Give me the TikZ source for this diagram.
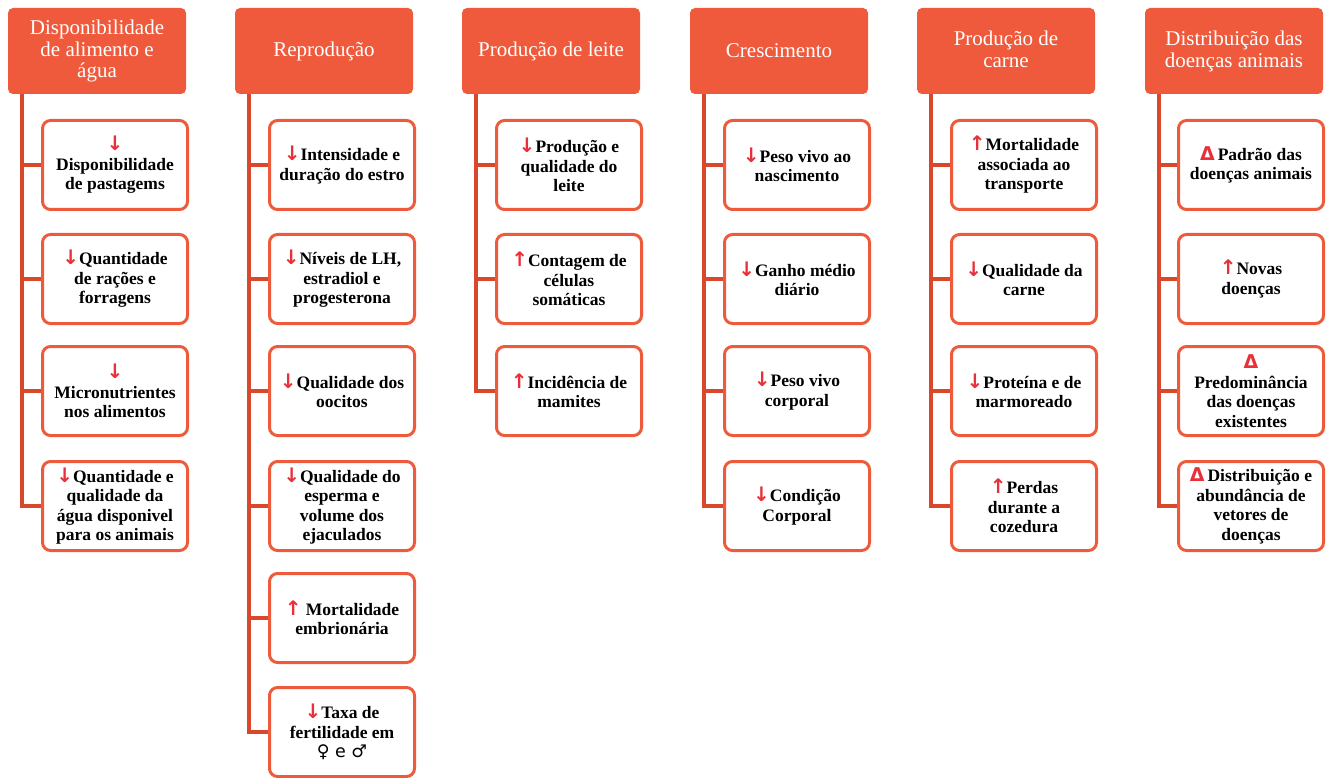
\documentclass[tikz,border=0pt]{standalone}
\usepackage{fontspec}
\setmainfont{Liberation Serif}
\newfontfamily\symfont{DejaVu Sans}
\definecolor{headfill}{HTML}{F05A3C}
\definecolor{boxline}{HTML}{EE5B3C}
\definecolor{trunkline}{HTML}{DA482C}
\definecolor{arrred}{HTML}{E8303A}
\newcommand{\arrdown}{{\color{arrred}\symfont\bfseries\fontsize{20}{19.5}\selectfont ↓}}
\newcommand{\arrup}{{\color{arrred}\symfont\bfseries\fontsize{20}{19.5}\selectfont ↑}}
\newcommand{\arrtri}{{\color{arrred}\symfont\bfseries\fontsize{19}{19.5}\selectfont Δ}}
\newcommand{\sexes}{{\symfont\mdseries ♀ e ♂}}
\begin{document}
\begin{tikzpicture}[x=1pt,y=-1pt,
  head/.style={fill=headfill, rounded corners=5pt, minimum width=178pt, minimum height=86pt,
    text=white, align=center, inner sep=2pt, font=\fontsize{21}{21.5}\selectfont},
  item/.style={draw=boxline, line width=3pt, fill=white, rounded corners=8pt,
    minimum width=145pt, minimum height=89pt, align=center, inner sep=2pt,
    font=\bfseries\fontsize{17.5}{19.5}\selectfont},
  branch/.style={draw=trunkline, line width=3.2pt}]
  \useasboundingbox (0,0) rectangle (1326,778);
  % headers
  \node[head] (h1) at (97,51) {Disponibilidade\\de alimento e\\água};
  \node[head] (h2) at (324,51) {Reprodução};
  \node[head] (h3) at (551,51) {Produção de leite};
  \node[head] (h4) at (779,51) {Crescimento};
  \node[head,text depth=4pt] (h5) at (1006,51) {Produção de\\carne};
  \node[head,text depth=4pt] (h6) at (1234,51) {Distribuição das\\doenças animais};
  % alimento e agua
  \node[item] (c11) at (115,165) {\arrdown\\Disponibilidade\\de pastagems};
  \node[item] (c12) at (115,279) {\arrdown Quantidade\\de rações e\\forragens};
  \node[item] (c13) at (115,391) {\arrdown\\Micronutrientes\\nos alimentos};
  \node[item] (c14) at (115,506) {\arrdown Quantidade e\\qualidade da\\água disponivel\\para os animais};
  % reproducao
  \node[item] (c21) at (342,165) {\arrdown Intensidade e\\duração do estro};
  \node[item] (c22) at (342,279) {\arrdown Níveis de LH,\\estradiol e\\progesterona};
  \node[item] (c23) at (342,391) {\arrdown Qualidade dos\\oocitos};
  \node[item] (c24) at (342,506) {\arrdown Qualidade do\\esperma e\\volume dos\\ejaculados};
  \node[item] (c25) at (342,618) {\arrup\ Mortalidade\\embrionária};
  \node[item] (c26) at (342,732) {\arrdown Taxa de\\fertilidade em\\\sexes};
  % leite
  \node[item] (c31) at (569,165) {\arrdown Produção e\\qualidade do\\leite};
  \node[item] (c32) at (569,279) {\arrup Contagem de\\células\\somáticas};
  \node[item] (c33) at (569,391) {\arrup Incidência de\\mamites};
  % crescimento
  \node[item] (c41) at (797,165) {\arrdown Peso vivo ao\\nascimento};
  \node[item] (c42) at (797,279) {\arrdown Ganho médio\\diário};
  \node[item] (c43) at (797,391) {\arrdown Peso vivo\\corporal};
  \node[item] (c44) at (797,506) {\arrdown Condição\\Corporal};
  % carne
  \node[item] (c51) at (1024,165) {\arrup Mortalidade\\associada ao\\transporte};
  \node[item] (c52) at (1024,279) {\arrdown Qualidade da\\carne};
  \node[item] (c53) at (1024,391) {\arrdown Proteína e de\\marmoreado};
  \node[item] (c54) at (1024,506) {\arrup Perdas\\durante a\\cozedura};
  % doencas
  \node[item] (c61) at (1251,165) {\arrtri\,Padrão das\\doenças animais};
  \node[item] (c62) at (1251,279) {\arrup Novas\\doenças};
  \node[item] (c63) at (1251,391) {\arrtri\\Predominância\\das doenças\\existentes};
  \node[item] (c64) at (1251,506) {\arrtri\,Distribuição e\\abundância de\\vetores de\\doenças};
  % connectors
  \foreach \c in {11,12,13,14} \draw[branch] ([xshift=-75pt]h1.south) |- (c\c.west);
  \foreach \c in {21,22,23,24,25,26} \draw[branch] ([xshift=-75pt]h2.south) |- (c\c.west);
  \foreach \c in {31,32,33} \draw[branch] ([xshift=-75pt]h3.south) |- (c\c.west);
  \foreach \c in {41,42,43,44} \draw[branch] ([xshift=-75pt]h4.south) |- (c\c.west);
  \foreach \c in {51,52,53,54} \draw[branch] ([xshift=-75pt]h5.south) |- (c\c.west);
  \foreach \c in {61,62,63,64} \draw[branch] ([xshift=-75pt]h6.south) |- (c\c.west);
\end{tikzpicture}
\end{document}
